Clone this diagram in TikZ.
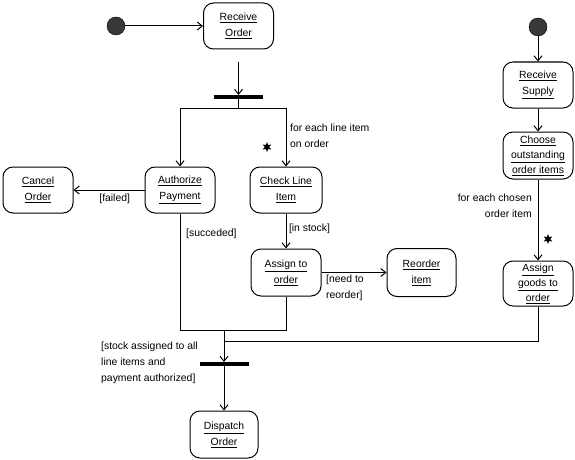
\documentclass[tikz,border=0pt]{standalone}
\usepackage{fontspec}
\setmainfont{Liberation Sans}
\usetikzlibrary{arrows.meta,shapes.geometric}
\begin{document}
\begin{tikzpicture}[x=1pt,y=-1pt,
  font=\fontsize{10.4}{16}\selectfont,
  act/.style={draw,rounded corners=10pt,minimum width=70pt,minimum height=46pt,inner sep=0pt,align=center,line width=1pt},
  startdot/.style={circle,fill=black!78,draw=black,minimum size=18pt,inner sep=0pt},
  syncbar/.style={fill=black,minimum width=49pt,minimum height=3.5pt,inner sep=0pt},
  arr/.style={-{Straight Barb[length=5pt,width=8pt]},line width=1pt},
  ln/.style={line width=1pt},
  lbl/.style={inner sep=0pt,align=left},
  multistar/.style={star,star points=6,star point ratio=2.2,fill=black,inner sep=0pt,minimum size=10pt}]
\useasboundingbox (0,0) rectangle (575,460);
% nodes
\node[startdot] (dot1) at (116,26) {};
\node[act] (recv) at (238.5,26) {\underline{Receive}\\\underline{Order}};
\coordinate (c1) at (238.5,62);
\node[syncbar] (bar1) at (238.5,97) {};
\coordinate (f1) at (238.5,108);
\node[act] (cancel) at (38,190) {\underline{Cancel}\\\underline{Order}};
\node[act] (auth) at (180,190) {\underline{Authorize}\\\underline{Payment}};
\node[act,minimum width=72pt] (check) at (286,190) {\underline{Check Line}\\\underline{Item}};
\node[act,minimum height=47pt] (assign) at (286,272.5) {\underline{Assign to}\\\underline{order}};
\node[act,minimum width=69pt,minimum height=48pt] (reorder) at (421.5,272.5) {\underline{Reorder}\\\underline{item}};
\coordinate (m1) at (286,330);
\coordinate (m3) at (224,330);
\coordinate (m4) at (224,341);
\node[syncbar] (bar2) at (224,364) {};
\node[act,minimum width=68pt,minimum height=47pt] (dispatch) at (224,434.5) {\underline{Dispatch}\\\underline{Order}};
\node[startdot] (dot2) at (538,27) {};
\node[act] (supply) at (538,85) {\underline{Receive}\\\underline{Supply}};
\node[act,minimum height=47pt,font=\fontsize{10.4}{15}\selectfont] (choose) at (538,155.5) {\underline{Choose}\\\underline{outstanding}\\\underline{order items}};
\node[act,minimum height=45pt,font=\fontsize{10.4}{15}\selectfont] (goods) at (538,283.5) {\underline{Assign}\\\underline{goods to}\\\underline{order}};
% labels
\node[lbl,anchor=west] (lfor1) at (290,135.5) {for each line item\\on order};
\node[multistar] (star1) at (267,147) {};
\node[lbl,anchor=west] (lsucc) at (186,234) {[succeded]};
\node[lbl,anchor=north west] (lneed) at (326,275) {[need to\\reorder]};
\node[lbl,anchor=north west] (lstock) at (101,342) {[stock assigned to all\\line items and\\payment authorized]};
\node[lbl,anchor=east,align=right] (lfor2) at (532,206) {for each chosen\\order item};
\node[multistar] (star2) at (548,239) {};
% connectors
\draw[arr] (dot1) -- (recv);
\draw[arr] (c1) -- (bar1);
\draw[ln] (bar1.center) -- (f1);
\draw[arr] (f1) -| (auth.north);
\draw[arr] (f1) -| (check.north);
\draw[arr] (auth) -- node[below,pos=0.42,inner sep=3pt] (lfail) {[failed]} (cancel);
\draw[arr] (check) -- node[right,pos=0.45,inner sep=2.5pt] (lin) {[in stock]} (assign);
\draw[arr] (assign) -- (reorder);
\draw[ln] (auth.south) |- (m1) -- (assign.south);
\draw[arr] (m3) -- (bar2);
\draw[ln] (goods.south) |- (m4);
\draw[arr] (bar2.center) -- (dispatch);
\draw[arr] (dot2) -- (supply);
\draw[arr] (supply) -- (choose);
\draw[arr] (choose) -- (goods);
\end{tikzpicture}
\end{document}
